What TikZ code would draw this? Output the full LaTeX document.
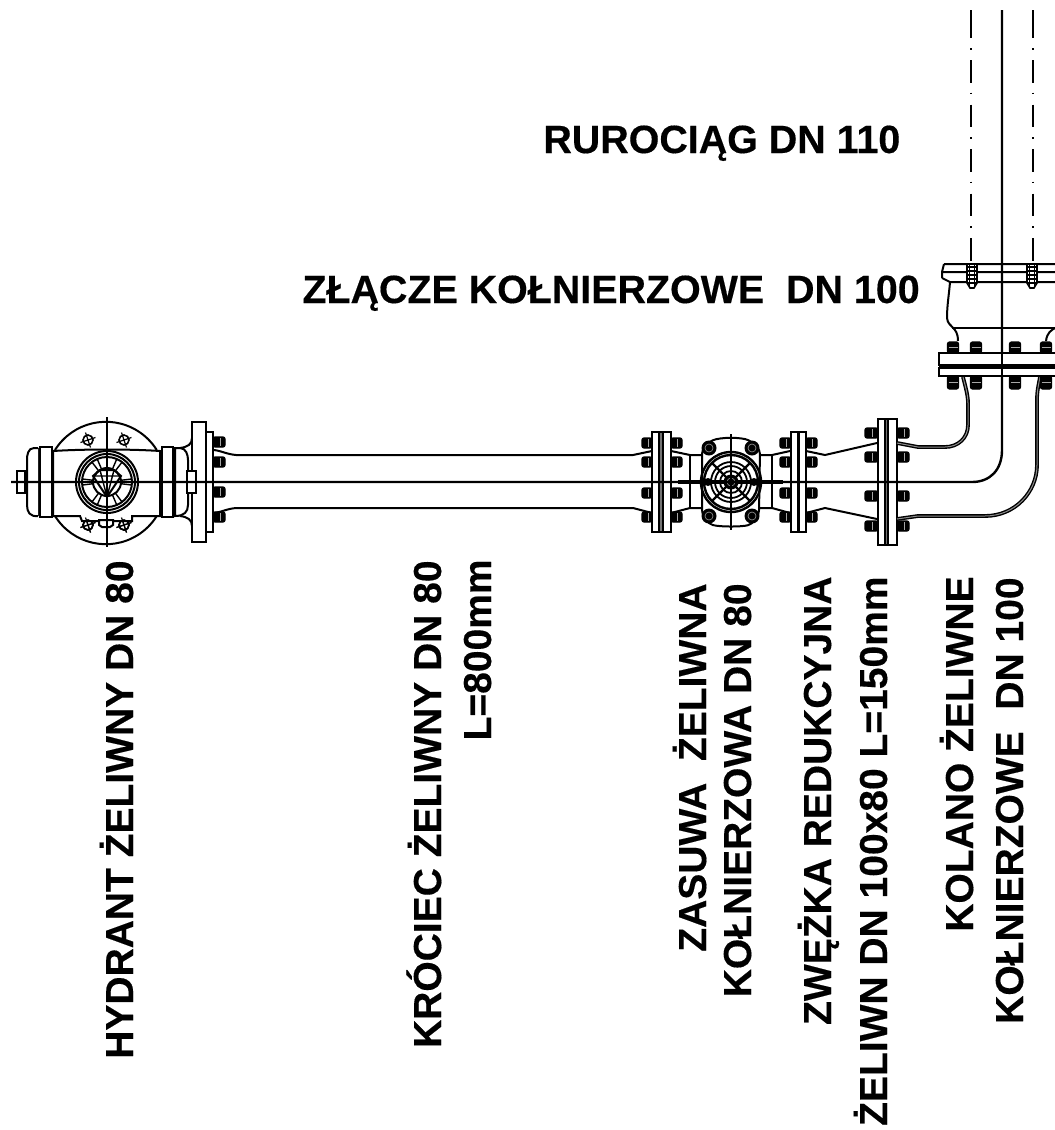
\documentclass[tikz,border=0pt]{standalone}
\usepackage{fontspec}
\setmainfont{Liberation Sans}[BoldFeatures={FakeBold=0.35}]
\usetikzlibrary{calc}
\tikzset{
 ln/.style={line width=1pt,black},
 thin ln/.style={line width=0.6pt,black},
 cl/.style={line width=1.2pt,black},
 dbl/.style={line width=0.7pt,black,double=black!45,double distance=0.5pt},
 lbl/.style={font=\fontsize{19.5}{19.5}\selectfont\bfseries,inner sep=0pt,text=black},
 hlbl/.style={lbl,font=\fontsize{19.7}{19.7}\selectfont\bfseries,anchor=base west},
 vlbl/.style={lbl,rotate=90,anchor=base east},
 cdash/.style={line width=1.1pt,black,dash pattern=on 11.25pt off 5pt on 0.8pt off 5.2pt},
}
% horizontal-axis bolt (stud pointing along x): x1,x2,yc
\newcommand{\hbolt}[3]{%
 \draw[line width=0.6pt,fill=black,rounded corners=1pt] (#1,#3-5) rectangle (#2,#3+5);
 \draw[line width=0.35pt,white!65!black] ({(#1+#2)/2+1},#3-4) -- ({(#1+#2)/2+1},#3+4);}
% vertical-axis bolt: xc,y1,y2
\newcommand{\vbolt}[3]{%
 \draw[line width=0.6pt,fill=black,rounded corners=1pt] (#1-5.5,#2) rectangle (#1+5.5,#3);
 \draw[line width=0.35pt,white!65!black] (#1-4.5,{(#2+#3)/2}) -- (#1+4.5,{(#2+#3)/2});}
% crossed hole of the hydrant
\newcommand{\hole}[2]{%
 \draw[line width=0.8pt,black] (#1,#2) circle (5);
 \draw[thin ln] (#1-7.5,#2+2.5) -- (#1+7.5,#2-2.5) (#1-2.5,#2-7.5) -- (#1+2.5,#2+7.5);}
\begin{document}
\begin{tikzpicture}[x=0.5pt,y=-0.5pt]
\useasboundingbox (0,0) rectangle (1055,1130);
\fill[white] (0,0) rectangle (1055,1130);

% ---------- pipe lines at top right
\draw[cdash] (971,15.5) -- (971,264);
\draw[cdash] (1033,15.5) -- (1033,264);
\draw[line width=1.1pt] (971,10) -- (971,16) (1033,10) -- (1033,16);

% ---------- hydrant
\draw[ln] (55,450) arc[start angle=212,end angle=328,radius=60];
\draw[ln] (55,516) arc[start angle=148,end angle=32,radius=60];
\foreach \p/\q in {88/440,124/440,88/525,124/525}{\hole{\p}{\q}}
\draw[ln,fill=white] (53,451) .. controls (85,449) and (130,449) .. (160,451) -- (160,516) -- (132,516) -- (132,521) -- (82,521) -- (80,516) -- (53,516) -- cycle;
\hole{88}{525}\hole{124}{525}
\draw[ln,fill=white] (99,520) -- (99,525) -- (102,527) -- (110,527) -- (113,525) -- (113,520) -- cycle;
\draw[ln,fill=white] (40,447) rectangle (52,517);
\draw[ln] (38,448) -- (38,516);
\draw[ln,fill=white] (38,448) -- (34,448) .. controls (28,448) and (27,455) .. (27,460) -- (27,505) .. controls (27,512) and (30,517) .. (38,516);
\draw[ln,fill=white] (17,471) rectangle (25,493);
\draw[ln] (25,476) -- (27,476) (25,488) -- (27,488);
\draw[ln,fill=white] (162,447) rectangle (173,517);
\draw[ln,fill=black!45] (173,448) rectangle (175,516);
\draw[ln,fill=white] (175,448) -- (180,448) .. controls (186,448) and (188,455) .. (188,460) -- (188,505) .. controls (188,512) and (184,516) .. (175,516) -- cycle;
\draw[ln] (180,448) .. controls (188,447) and (192,444) .. (192,438);
\draw[ln] (180,516) .. controls (188,517) and (192,520) .. (192,526);
\draw[ln,fill=white] (192,422) rectangle (206,542);
\draw[ln,fill=white] (187,471) rectangle (196,493);
\draw[ln,fill=white] (206,432) rectangle (213,532);
\foreach \y in {442,462,492,517}{\hbolt{213}{225}{\y}}
% hydrant wheel
\foreach \r in {31,28,25}{\draw[ln] (107,482) circle (\r);}
\foreach \a in {-60,-120,60,120,0,180}{
 \draw[line width=0.7pt] ($(107,482)+(\a+7:13)$) -- ($(107,482)+(\a+7:25)$);
 \draw[line width=0.7pt] ($(107,482)+(\a-7:13)$) -- ($(107,482)+(\a-7:25)$);}
\draw[ln,fill=white] (107,482) circle (14);
\draw[ln] (93,476) -- (100,470) -- (114,470) -- (121,476) -- (107,497) -- cycle;
\draw[line width=0.7pt] (93,476) -- (121,476) (100,470) -- (107,497) -- (114,470) (100,482) -- (114,482);
% hydrant axes
\draw[cl] (107,417) -- (107,547);

% ---------- koncowka + pipe DN 80
\draw[ln] (214,450) .. controls (222,451) and (226,454) .. (236,455) -- (633,455) -- (652,451);
\draw[ln] (214,513) .. controls (222,512) and (226,509) .. (236,508) -- (633,508) -- (652,513);

% ---------- left flange pair of the valve
\draw[ln,fill=white] (652,432) rectangle (659,532);
\draw[ln,fill=black!55] (659,432) rectangle (663,532);
\draw[ln,fill=white] (663,432) rectangle (671,532);
\foreach \y in {443,462,493,517}{\hbolt{642}{652}{\y}\hbolt{671}{682}{\y}}

% ---------- valve
\draw[ln] (671,451) -- (690,455) -- (703,455);
\draw[ln] (671,513) -- (690,508) -- (703,508);
\draw[ln] (690,455) -- (690,508);
\draw[ln] (759,455) -- (772,455) -- (790,451);
\draw[ln] (759,508) -- (772,508) -- (790,513);
\draw[ln] (772,455) -- (772,508);
\draw[ln,fill=white,rounded corners=2pt] (702,450) -- (709,442) .. controls (720,437) and (742,437) .. (752,442) -- (760,450) -- (759,514) -- (752,524) .. controls (742,527) and (720,527) .. (709,524) -- (702,514) -- cycle;
\foreach \r in {30,27}{\draw[line width=1.2pt] (731,482) circle (\r);}
\draw[line width=1.8pt,black] (678,482) -- (783,482);
\foreach \r in {20,16,11}{\draw[line width=0.9pt] (731,482) circle (\r);}
\draw[line width=1.2pt] (712,463) -- (750,501) (750,463) -- (712,501);
\fill[black] (731,482) circle (7.5);
\draw[black!40,line width=0.3pt] (731,482) circle (4);
\foreach \p/\q in {709/448,752/448,709/516,752/516}{
 \fill[black] (\p,\q) circle (7.5);
 \draw[black!40,line width=0.3pt] (\p,\q) circle (4);}
\fill[black] (708,482) circle (4) (754,482) circle (4);
\draw[cl] (731,434) -- (731,530);

% ---------- second flange pair
\draw[ln,fill=white] (791,432) rectangle (798,532);
\draw[ln,fill=black!55] (798,432) rectangle (799,532);
\draw[ln,fill=white] (799,432) rectangle (806,532);
\foreach \y in {443,462,493,517}{\hbolt{780}{791}{\y}\hbolt{806}{817}{\y}}

% ---------- reducer
\draw[ln] (806,451) -- (825,455) -- (877,443);
\draw[ln] (806,513) -- (825,508) -- (877,519);

% ---------- third flange pair
\draw[ln,fill=white] (878,419) rectangle (885,545);
\draw[ln,fill=black!55] (885,419) rectangle (888,545);
\draw[ln,fill=white] (888,419) rectangle (897,545);
\foreach \y in {433,457,496,526}{\hbolt{865}{878}{\y}\hbolt{897}{909}{\y}}

% ---------- elbow
\draw[dbl] (897,443) -- (918,447) -- (945,447) .. controls (958,447) and (968,438) .. (968,425) -- (968,403) .. controls (968,395) and (965,385) .. (963,377);
\draw[dbl] (897,519) -- (918,516) -- (985,516) .. controls (1015,516) and (1037,492) .. (1037,465) -- (1037,400) .. controls (1037,390) and (1039,383) .. (1040,377);

% ---------- axes of the run
\draw[cl] (11,482) -- (972,482) .. controls (990,482) and (1002,470) .. (1002,450) -- (1002,10);

% ---------- upper flanges and socket
\fill[white] (939,353) rectangle (1055,376);
\draw[ln] (939,353) rectangle (1056,365);
\draw[ln] (939,368) rectangle (1056,376);
\draw[ln] (939,366.5) -- (1055,366.5);
\foreach \x in {953,976,1015,1046}{\vbolt{\x}{342}{353}\vbolt{\x}{376}{389}}
\draw[cl] (1002,340) -- (1002,390);
\draw[ln] (950,282) .. controls (949,295) and (947,305) .. (947,318) .. controls (948,328) and (958,326) .. (958,341);
\draw[ln] (1046,341) .. controls (1047,332) and (1052,330) .. (1055,328);
\draw[ln] (952,328) -- (1055,328);
\draw[ln] (944,264) -- (1055,264) (943,272) -- (1055,272) (942,278) -- (950,282) -- (1055,282);
\draw[ln] (944,264) -- (942,272) -- (942,278);
\foreach \x in {972,1032}{
 \draw[fill=white,line width=0.8pt] (\x-5,264) -- (\x+5,264) -- (\x+5,283) -- (\x+2,288) -- (\x-2,288) -- (\x-5,283) -- cycle;
 \draw[line width=0.7pt] (\x-2.5,264) -- (\x-2.5,287) (\x+2.5,264) -- (\x+2.5,287);
 \foreach \d in {267,271,275,279,283}{\draw[line width=0.6pt] (\x-5,\d) -- (\x+5,\d);}
}

% ---------- labels
\node[hlbl] (t1) at (543,153) {RUROCIĄG DN 110};
\node[hlbl] (t2) at (302,303) {ZŁĄCZE KOŁNIERZOWE~~DN 100};
\node[vlbl] (t3) at (133,560) {HYDRANT ŻELIWNY DN 80};
\node[vlbl] (t4) at (441,560) {KRÓCIEC ŻELIWNY DN 80};
\node[vlbl] (t5) at (491,559) {L=800mm};
\node[vlbl] (t6) at (706,583) {ZASUWA~~ŻELIWNA};
\node[vlbl] (t7) at (751,583) {KOŁNIERZOWA DN 80};
\node[vlbl] (t8) at (831,576) {ZWĘŻKA REDUKCYJNA};
\node[vlbl] (t9) at (887,576) {ŻELIWN DN 100x80 L=150mm};
\node[vlbl] (t10) at (973,576) {KOLANO ŻELIWNE};
\node[vlbl] (t11) at (1023,577) {KOŁNIERZOWE~~DN 100};
\end{tikzpicture}
\end{document}
